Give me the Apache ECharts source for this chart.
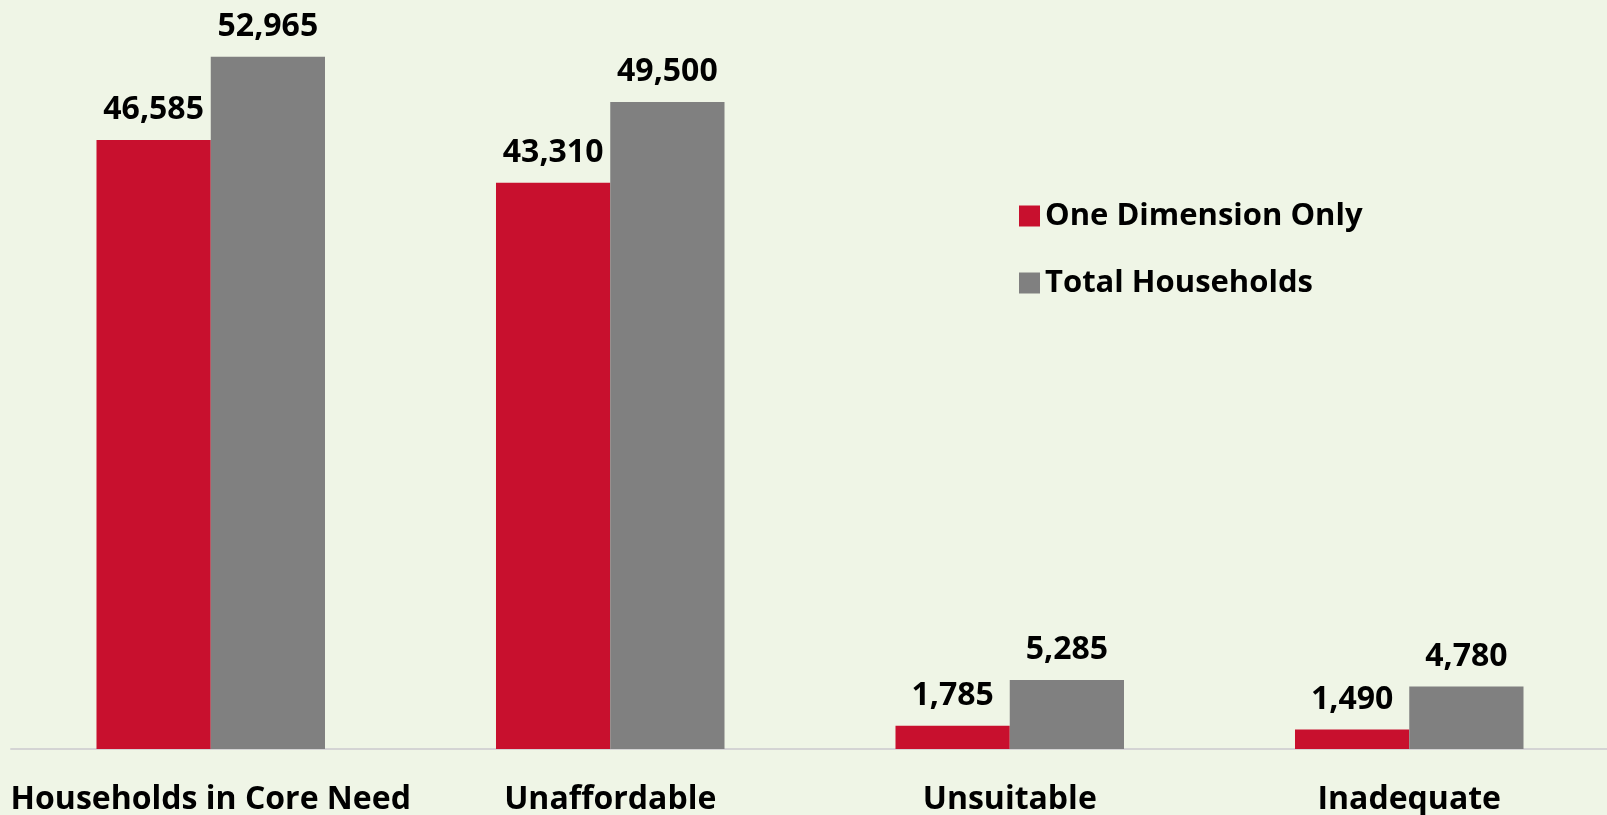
<!DOCTYPE html>
<html>
<head>
<meta charset="utf-8">
<script src="https://cdn.jsdelivr.net/npm/echarts@6/dist/echarts.min.js"></script>
<style>
  html, body { margin: 0; padding: 0; background: #eff5e6; }
  #chart { width: 1607px; height: 815px; }
</style>
</head>
<body>
<div id="chart"></div>
<script>
const categories = ['Households in Core Need', 'Unaffordable', 'Unsuitable', 'Inadequate'];
const oneDimension = [46585, 43310, 1785, 1490];
const totalHouseholds = [52965, 49500, 5285, 4780];

const font = '"Open Sans", "Noto Sans", sans-serif';
const chart = echarts.init(document.getElementById('chart'));

function fmt(p) {
  return p.value.toLocaleString('en-US');
}

chart.setOption({
  backgroundColor: '#eff5e6',
  textStyle: { fontFamily: font },
  legend: {
    orient: 'vertical',
    left: 1014,
    top: 193,
    itemWidth: 21,
    itemHeight: 21,
    itemGap: 31,
    icon: 'rect',
    textStyle: { fontSize: 31, fontWeight: 'bold', color: '#000', fontFamily: font, lineHeight: 36 },
    data: ['One Dimension Only', 'Total Households']
  },
  grid: { left: 11, right: -2, top: 0, bottom: 66, containLabel: false, outerBoundsMode: 'none' },
  xAxis: {
    type: 'category',
    data: categories,
    axisTick: { show: false },
    axisLine: { lineStyle: { color: '#d4d4d4', width: 2 } },
    axisLabel: { fontSize: 32, fontWeight: 'bold', color: '#000', fontFamily: font, margin: 33, lineHeight: 36, interval: 0 }
  },
  yAxis: {
    type: 'value',
    min: 0,
    max: 57300,
    show: false,
    splitLine: { show: false }
  },
  series: [{
    name: 'One Dimension Only',
    type: 'bar',
    data: oneDimension,
    barWidth: '28.6%',
    barGap: '0%',
    itemStyle: { color: '#c8102e' },
    label: { show: true, position: 'top', distance: 14, fontSize: 32, fontWeight: 'bold', color: '#000', fontFamily: font, formatter: fmt }
  }, {
    name: 'Total Households',
    type: 'bar',
    data: totalHouseholds,
    barWidth: '28.6%',
    itemStyle: { color: '#808080' },
    label: { show: true, position: 'top', distance: 14, fontSize: 32, fontWeight: 'bold', color: '#000', fontFamily: font, formatter: fmt }
  }]
});
</script>
</body>
</html>
